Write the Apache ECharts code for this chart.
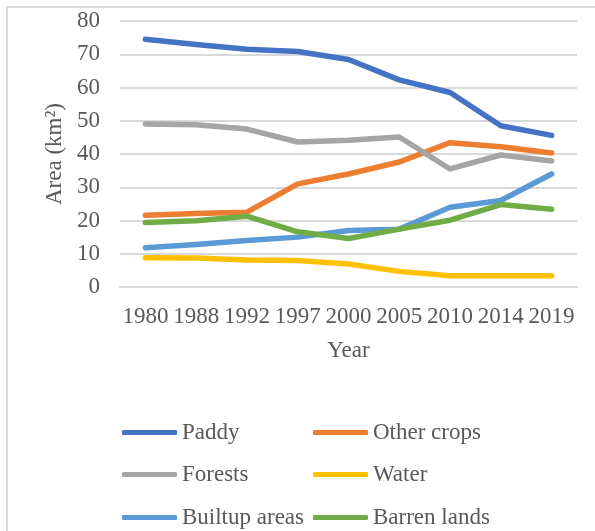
<!DOCTYPE html>
<html>
<head>
<meta charset="utf-8">
<script src="https://cdn.jsdelivr.net/npm/echarts@6/dist/echarts.min.js"></script>
<style>
  html, body { margin: 0; padding: 0; background: #fff; }
  #chart { width: 595px; height: 531px; }
</style>
</head>
<body>
<div id="chart"></div>
<script>
// 年份和各类用地面积 (km²)
var years = ['1980', '1988', '1992', '1997', '2000', '2005', '2010', '2014', '2019']
var paddy = [74.5, 72.9, 71.5, 70.8, 68.4, 62.3, 58.5, 48.5, 45.6]
var otherCrops = [21.6, 22.1, 22.5, 31.0, 34.0, 37.6, 43.4, 42.2, 40.3]
var forests = [49.0, 48.8, 47.5, 43.6, 44.1, 45.1, 35.5, 39.7, 37.9]
var water = [8.8, 8.7, 8.1, 8.0, 6.9, 4.7, 3.4, 3.4, 3.4]
var builtup = [11.8, 12.8, 14.0, 15.0, 17.0, 17.4, 24.0, 26.0, 34.0]
var barren = [19.4, 19.9, 21.3, 16.6, 14.6, 17.4, 20.1, 24.8, 23.4]

var names = ['Paddy', 'Other crops', 'Forests', 'Water', 'Builtup areas', 'Barren lands']
var colors = ['#4472C4', '#ED7D31', '#A5A5A5', '#FFC000', '#5B9BD5', '#70AD47']
var values = [paddy, otherCrops, forests, water, builtup, barren]

var font = '"Liberation Serif", "Times New Roman", serif'
var fontSize = 23

var chart = echarts.init(document.getElementById('chart'))

// 图例: 两列三行, 每项单独放
var legendLeft = [122, 313]
var legendTop = [421, 463, 506]
var legends = names.map(function (n, i) {
  return {
    left: legendLeft[i % 2],
    top: legendTop[Math.floor(i / 2)],
    padding: 0,
    data: [n],
    itemWidth: 55,
    itemHeight: 5,
    icon: 'roundRect',
    textStyle: { fontFamily: font, fontSize: fontSize, color: '#595959' }
  }
})

chart.setOption({
  animation: false,
  grid: { left: 120, right: 18, top: 21, bottom: 244 },
  legend: legends,
  graphic: [
    { type: 'line', shape: { x1: 7, y1: 7, x2: 595, y2: 7 }, style: { stroke: '#D9D9D9', lineWidth: 2 } },
    { type: 'line', shape: { x1: 7, y1: 7, x2: 7, y2: 531 }, style: { stroke: '#D9D9D9', lineWidth: 2 } }
  ],
  xAxis: {
    type: 'category',
    data: years,
    boundaryGap: true,
    name: 'Year',
    nameLocation: 'middle',
    nameGap: 52,
    nameTextStyle: { fontFamily: font, fontSize: fontSize, color: '#595959' },
    axisLine: { lineStyle: { color: '#D9D9D9', width: 2 } },
    axisTick: { show: false },
    axisLabel: { fontFamily: font, fontSize: fontSize, color: '#595959', margin: 18, interval: 0 }
  },
  yAxis: {
    type: 'value',
    min: 0,
    max: 80,
    interval: 10,
    name: 'Area (km²)',
    nameLocation: 'middle',
    nameGap: 51,
    nameTextStyle: { fontFamily: font, fontSize: fontSize, color: '#595959' },
    axisLine: { show: false },
    axisTick: { show: false },
    axisLabel: { fontFamily: font, fontSize: fontSize, color: '#595959', margin: 20 },
    splitLine: { lineStyle: { color: '#D9D9D9', width: 2 } }
  },
  series: names.map(function (n, i) {
    return {
      name: n,
      type: 'line',
      data: values[i],
      showSymbol: false,
      symbol: 'none',
      color: colors[i],
      lineStyle: { width: 5.5, cap: 'round', join: 'round' }
    }
  })
})
</script>
</body>
</html>
